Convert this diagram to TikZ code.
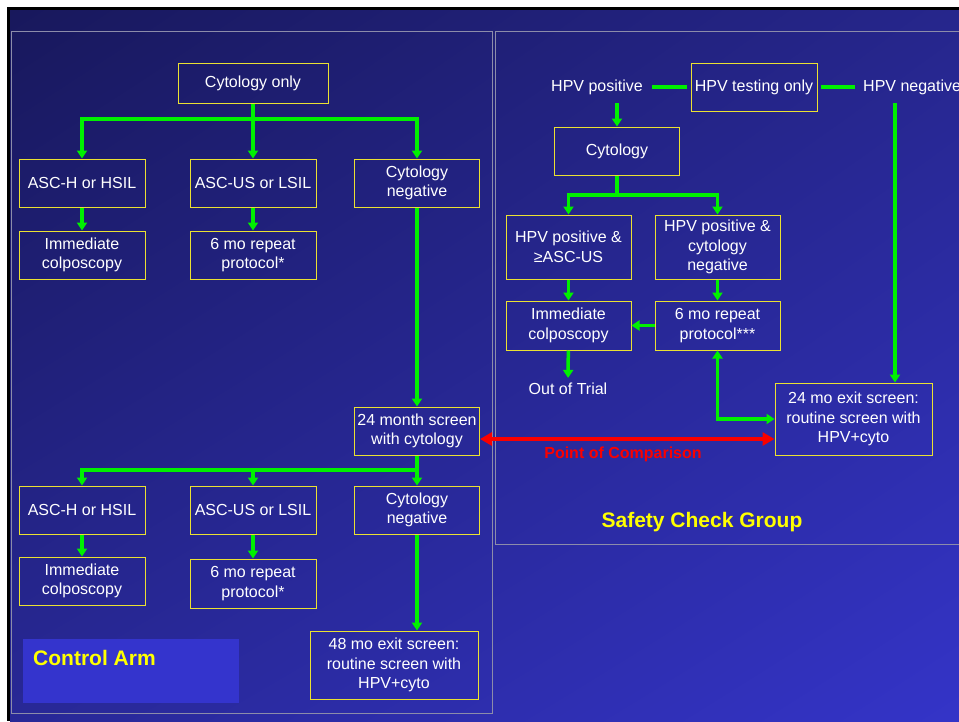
\documentclass[tikz,border=0pt]{standalone}
\usepackage{fontspec}
\setmainfont{Liberation Sans}
\usetikzlibrary{arrows.meta,calc,shadings}
\definecolor{bgdark}{RGB}{24,24,92}
\definecolor{bgupright}{RGB}{38,38,140}
\definecolor{bglowleft}{RGB}{40,40,150}
\definecolor{bglight}{RGB}{52,52,200}
\definecolor{boxyellow}{RGB}{235,225,50}
\definecolor{arrowgreen}{RGB}{0,240,0}
\definecolor{panelgray}{RGB}{140,140,170}
\definecolor{pointred}{RGB}{250,0,0}
\definecolor{armfill}{RGB}{52,52,205}
\definecolor{titleyellow}{RGB}{255,255,0}
\tikzset{
	ybox/.style={draw=boxyellow,line width=1pt,text=white,align=center,inner sep=0pt,minimum width=126pt,minimum height=48pt,font=\fontsize{16}{19.5}\selectfont},
	freetext/.style={text=white,inner sep=0pt,font=\fontsize{16}{19.5}\selectfont},
	titletext/.style={text=titleyellow,inner sep=0pt,font=\bfseries\fontsize{21}{25}\selectfont},
	redtext/.style={text=pointred,inner sep=0pt,font=\bfseries\fontsize{16}{19.5}\selectfont},
	gline/.style={draw=arrowgreen,line width=3.5pt},
	garrow/.style={gline,-{Triangle[width=10pt,length=8pt]}},
	gdouble/.style={gline,{Triangle[width=10pt,length=8pt]}-{Triangle[width=10pt,length=8pt]}},
	redarrow/.style={draw=pointred,line width=4.5pt,{Triangle[width=13pt,length=12pt]}-{Triangle[width=13pt,length=12pt]}}
}
\begin{document}
\begin{tikzpicture}[x=1pt,y=1pt,yscale=-1,xscale=1]
		\clip (0,0) rectangle (959,721);
		\fill[white] (0,0) rectangle (959,721);
		\fill[black] (7,7) rectangle (959,721);
		\shade[upper left=bgdark,upper right=bgupright,lower left=bglowleft,lower right=bglight] (10,10) rectangle (959,721);
		\draw[panelgray,line width=1pt] (11,31) rectangle (492,713);
		\draw[panelgray,line width=1pt] (495,31) rectangle (965,544);
		\fill[armfill] (23,639) rectangle (239,703);

		\node[ybox,minimum width=150pt,minimum height=40pt] (cyto) at (253,83) {Cytology only};
		\node[ybox] (ascH1) at (82,183) {ASC-H or HSIL};
		\node[ybox] (ascUS1) at (253,183) {ASC-US or LSIL};
		\node[ybox,minimum width=125pt] (neg1) at (417,183) {Cytology\\negative};
		\node[ybox] (colpo1) at (82,255) {Immediate\\colposcopy};
		\node[ybox] (rep1) at (253,255) {6 mo repeat\\protocol*};
		\node[ybox,minimum width=125pt] (scr24) at (417,431) {24 month screen\\with cytology};
		\node[ybox] (ascH2) at (82,510) {ASC-H or HSIL};
		\node[ybox] (ascUS2) at (253,510) {ASC-US or LSIL};
		\node[ybox,minimum width=125pt] (neg2) at (417,510) {Cytology\\negative};
		\node[ybox] (colpo2) at (82,581) {Immediate\\colposcopy};
		\node[ybox,minimum height=49pt] (rep2) at (253,583.5) {6 mo repeat\\protocol*};
		\node[ybox,minimum width=168pt,minimum height=68pt] (exit48) at (394,665) {48 mo exit screen:\\routine screen with\\HPV+cyto};
		\node[titletext,anchor=base west] (ctrl) at (33,665) {Control Arm};

		\node[freetext] (hpvpos) at (597,87) {HPV positive};
		\node[ybox] (hpvtest) at (754,87) {HPV testing only};
		\node[freetext,anchor=west] (hpvneg) at (863,87) {HPV negative};
		\node[ybox,minimum width=125pt] (cyto2) at (617,151) {Cytology};
		\node[ybox,minimum width=125pt,minimum height=64pt] (posasc) at (568.5,247) {HPV positive \&\\≥ASC-US};
		\node[ybox,minimum width=125pt,minimum height=64pt] (posneg) at (717.5,247) {HPV positive \&\\cytology\\negative};
		\node[ybox,minimum width=125pt,minimum height=49pt] (colpo3) at (568.5,325.5) {Immediate\\colposcopy};
		\node[ybox,minimum width=125pt,minimum height=49pt] (rep3) at (717.5,325.5) {6 mo repeat\\protocol***};
		\node[freetext] (outtrial) at (568,389) {Out of Trial};
		\node[ybox,minimum width=157pt,minimum height=72pt] (exit24) at (853.5,419) {24 mo exit screen:\\routine screen with\\HPV+cyto};
		\node[redtext] (poc) at (623,454) {Point of Comparison};
		\node[titletext] (safety) at (702,522) {Safety Check Group};

		\coordinate (split1) at (253,119);
		\draw[gline] (cyto.south) -- (split1);
		\draw[garrow] (split1) -| (ascH1.north);
		\draw[garrow] (split1) -- (ascUS1.north);
		\draw[garrow] (split1) -| (neg1.north);
		\draw[garrow] (ascH1) -- (colpo1);
		\draw[garrow] (ascUS1) -- (rep1);
		\draw[garrow] (neg1) -- (scr24);
		\coordinate (split2) at (417,470);
		\draw[gline] (scr24.south) -- (split2);
		\draw[garrow] (split2) -| (ascH2.north);
		\draw[garrow] (split2) -| (ascUS2.north);
		\draw[garrow] (split2) -- (neg2.north);
		\draw[garrow] (ascH2) -- (colpo2);
		\draw[garrow] (ascUS2) -- (rep2);
		\draw[garrow] (neg2.south) -- (neg2.south |- exit48.north);

		\draw[gline,shorten <=9pt,shorten >=4pt] (hpvpos) -- (hpvtest);
		\draw[gline,shorten <=3pt,shorten >=8pt] (hpvtest) -- (hpvneg);
		\coordinate (posdrop) at (617,103);
		\coordinate (negdrop) at (895,103);
		\draw[garrow] (posdrop) -- (cyto2.north);
		\coordinate (split3) at (617,195);
		\draw[gline] (cyto2.south) -- (split3);
		\draw[garrow] (split3) -| (posasc.north);
		\draw[garrow] (split3) -| (posneg.north);
		\draw[garrow] (posasc) -- (colpo3);
		\draw[garrow] (posneg) -- (rep3);
		\draw[garrow] (rep3.west) -- (colpo3.east);
		\draw[garrow,shorten >=5pt] (colpo3) -- (outtrial);
		\draw[garrow] (negdrop) -- (negdrop |- exit24.north);
		\draw[gdouble] (rep3.south) |- (exit24.west);
		\draw[redarrow] ($(scr24.east)+(0,8)$) -- ($(exit24.west)+(0,20)$);
\end{tikzpicture}
\end{document}
